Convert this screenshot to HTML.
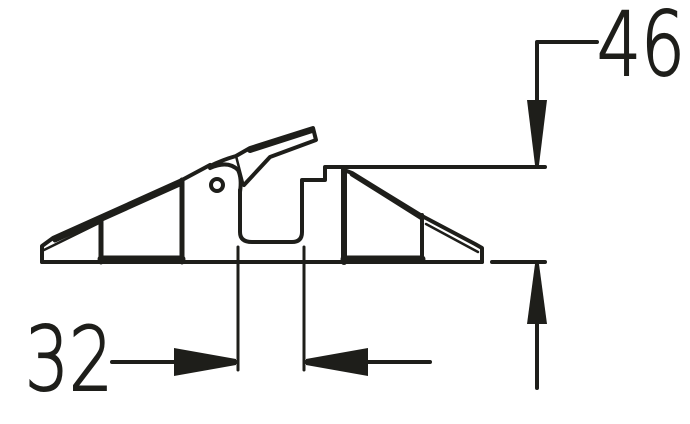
<!DOCTYPE html>
<html><head><meta charset="utf-8"><style>
html,body{margin:0;padding:0;background:#fff;}
svg{display:block;}
text{font-family:"DejaVu Sans","Liberation Sans",sans-serif;font-weight:200;fill:#1e1e1a;stroke:#1e1e1a;stroke-width:2;}
</style></head><body>
<svg width="690" height="424" viewBox="0 0 690 424" xmlns="http://www.w3.org/2000/svg">
<g fill="none" stroke="#1e1e1a" stroke-width="4" stroke-linejoin="round" stroke-linecap="round">
<line x1="42" y1="262" x2="482" y2="262"/>
<polyline points="42,262 42,246 53,238 182,180 210,165"/>
<line x1="44" y1="250" x2="101" y2="222" stroke-width="2.5"/>
<line x1="101" y1="220" x2="101" y2="262" stroke-width="5"/>
<line x1="182" y1="180" x2="182" y2="262" stroke-width="5"/>
<line x1="101" y1="259" x2="182" y2="259" stroke-width="7"/>
<line x1="55" y1="240" x2="182" y2="183" stroke-width="5"/>
<path d="M210,166 Q222,160 236,156 L250,148 L313,128 L316,140 L270,157 L244,185"/>
<line x1="236" y1="156" x2="243" y2="183" stroke-width="2.5"/>
<path d="M210,168 Q228,160 238,170 Q242,178 240,192"/>
<circle cx="217" cy="185" r="6"/>
<line x1="250" y1="150" x2="312" y2="130" stroke-width="6"/>
<path d="M240,190 L240,232 Q240,242 252,242 L292,242 Q302,242 302,232 L302,180 L325,180 L325,167 L338,167"/>
<line x1="338" y1="167" x2="545" y2="167"/>
<line x1="344" y1="168" x2="344" y2="262" stroke-width="6"/>
<polyline points="344,170 352,173 422,216 475,244 482,248 482,262"/>
<line x1="352" y1="174" x2="422" y2="218" stroke-width="5"/>
<line x1="426" y1="224" x2="478" y2="252" stroke-width="2.5"/>
<line x1="422" y1="215" x2="422" y2="262" stroke-width="4"/>
<line x1="344" y1="259" x2="422" y2="259" stroke-width="7"/>
<line x1="238" y1="247" x2="238" y2="370" stroke-width="3"/>
<line x1="304" y1="247" x2="304" y2="370" stroke-width="3"/>
<line x1="112" y1="362" x2="236" y2="362"/>
<line x1="306" y1="362" x2="430" y2="362"/>
<polyline points="597,42 537,42 537,165"/>
<line x1="492" y1="262" x2="545" y2="262"/>
<line x1="537" y1="264" x2="537" y2="388"/>
</g>
<g fill="#1e1e1a">
<polygon points="174,348 236,359 236,365 174,376"/>
<polygon points="368,348 306,359 306,365 368,376"/>
<polygon points="527,100 547,100 539,165 535,165"/>
<polygon points="527,324 547,324 539,264 535,264"/>
</g>
<text x="597" y="75" font-size="88" textLength="88" lengthAdjust="spacingAndGlyphs">46</text>
<text x="25" y="390" font-size="88" textLength="88" lengthAdjust="spacingAndGlyphs">32</text>
</svg>
</body></html>
